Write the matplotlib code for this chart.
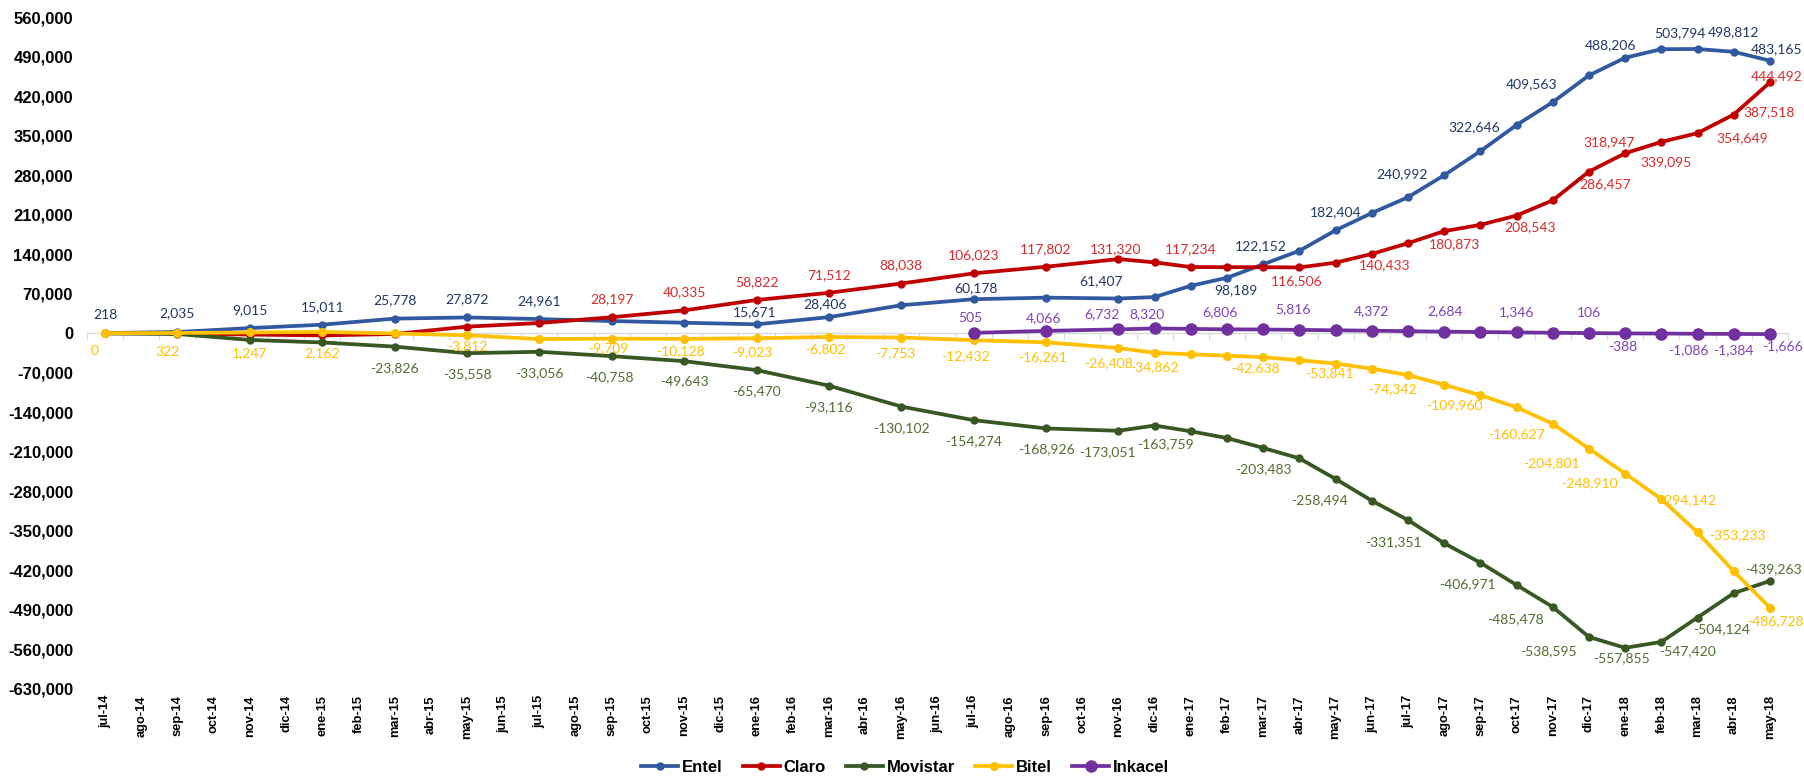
import numpy as np
import matplotlib.pyplot as plt
from matplotlib.ticker import FuncFormatter, MultipleLocator, FixedLocator

# category axis (every month) and the months that carry a data point
months = ['jul-14', 'ago-14', 'sep-14', 'oct-14', 'nov-14', 'dic-14', 'ene-15', 'feb-15', 'mar-15',
          'abr-15', 'may-15', 'jun-15', 'jul-15', 'ago-15', 'sep-15', 'oct-15', 'nov-15', 'dic-15',
          'ene-16', 'feb-16', 'mar-16', 'abr-16', 'may-16', 'jun-16', 'jul-16', 'ago-16', 'sep-16',
          'oct-16', 'nov-16', 'dic-16', 'ene-17', 'feb-17', 'mar-17', 'abr-17', 'may-17', 'jun-17',
          'jul-17', 'ago-17', 'sep-17', 'oct-17', 'nov-17', 'dic-17', 'ene-18', 'feb-18', 'mar-18',
          'abr-18', 'may-18']

data_months = ['jul-14', 'sep-14', 'nov-14', 'ene-15', 'mar-15', 'may-15', 'jul-15', 'sep-15',
               'nov-15', 'ene-16', 'mar-16', 'may-16', 'jul-16', 'sep-16', 'nov-16', 'dic-16',
               'ene-17', 'feb-17', 'mar-17', 'abr-17', 'may-17', 'jun-17', 'jul-17', 'ago-17',
               'sep-17', 'oct-17', 'nov-17', 'dic-17', 'ene-18', 'feb-18', 'mar-18', 'abr-18', 'may-18']

entel = [218, 2035, 9015, 15011, 25778, 27872, 24961, 21500, 18500, 15671, 28406, 49500, 60178,
         63000, 61407, 64000, 84000, 98189, 122152, 146000, 182404, 213000, 240992, 280000,
         322646, 369000, 409563, 457000, 488206, 503500, 503794, 498812, 483165]
claro = [0, -300, -2500, -4000, -1500, 11500, 18000, 28197, 40335, 58822, 71512, 88038, 106023,
         117802, 131320, 125500, 117234, 117000, 117000, 116506, 125000, 140433, 159500, 180873,
         192000, 208543, 235500, 286457, 318947, 339095, 354649, 387518, 444492]
movistar = [-500, -1500, -12000, -16500, -23826, -35558, -33056, -40758, -49643, -65470, -93116,
            -130102, -154274, -168926, -173051, -163759, -174000, -186000, -203483, -222000,
            -258494, -297000, -331351, -372500, -406971, -446500, -485478, -538595, -557855,
            -547420, -504124, -461000, -439263]
bitel = [0, 322, 1247, 2162, -500, -3812, -10500, -9709, -10128, -9023, -6802, -7753, -12432,
         -16261, -26408, -34862, -37500, -40000, -42638, -48000, -53841, -63000, -74342, -91500,
         -109960, -131500, -160627, -204801, -248910, -294142, -353233, -422000, -486728]
inkacel = [None, None, None, None, None, None, None, None, None, None, None, None,
           505, 4066, 6732, 8320, 7500, 6806, 6500, 5816, 5100, 4372, 3500, 2684, 2000, 1346,
           700, 106, -388, -700, -1086, -1384, -1666]

# which points carry a data label, with the label shift in pixels (dx, dy)
entel_labels = {'jul-14': (0, 18), 'sep-14': (0, 19), 'nov-14': (0, 18), 'ene-15': (0, 18),
                'mar-15': (0, 18), 'may-15': (0, 18), 'jul-15': (0, 18), 'ene-16': (-2, 12),
                'mar-16': (-4, 13), 'jul-16': (2, 11), 'nov-16': (-17, 17), 'feb-17': (9, -12),
                'mar-17': (-2, 18), 'may-17': (0, 18), 'jul-17': (-6, 23), 'sep-17': (-6, 24),
                'nov-17': (-21, 18), 'ene-18': (-15, 13), 'mar-18': (-18, 16), 'abr-18': (0, 20),
                'may-18': (7, 11)}
claro_labels = {'sep-15': (0, 18), 'nov-15': (0, 18), 'ene-16': (0, 18), 'mar-16': (0, 18),
                'may-16': (0, 18), 'jul-16': (0, 18), 'sep-16': (0, 18), 'nov-16': (-3, 10),
                'ene-17': (0, 18), 'abr-17': (-3, -14), 'jun-17': (13, -11), 'ago-17': (10, -13),
                'oct-17': (13, -12), 'dic-17': (16, -13), 'ene-18': (-16, 11), 'feb-18': (5, -20),
                'mar-18': (45, -5), 'abr-18': (35, 2), 'may-18': (7, 6)}
movistar_labels = {'mar-15': (0, -22), 'may-15': (0, -21), 'jul-15': (0, -21), 'sep-15': (-2, -21),
                   'nov-15': (0, -20), 'ene-16': (0, -21), 'mar-16': (0, -21), 'may-16': (0, -22),
                   'jul-16': (0, -21), 'sep-16': (0, -21), 'nov-16': (-11, -21), 'dic-16': (11, -19),
                   'mar-17': (0, -21), 'may-17': (-16, -21), 'jul-17': (-15, -22),
                   'sep-17': (-13, -21), 'nov-17': (-37, -12), 'dic-17': (-41, -14),
                   'ene-18': (-4, -10), 'feb-18': (26, -9), 'mar-18': (24, -12), 'may-18': (4, 12)}
bitel_labels = {'jul-14': (-10, -18), 'sep-14': (-10, -19), 'nov-14': (0, -21), 'ene-15': (0, -21),
                'may-15': (0, -11), 'sep-15': (-4, -10), 'nov-15': (-4, -12), 'ene-16': (-4, -14),
                'mar-16': (-4, -12), 'may-16': (-6, -16), 'jul-16': (-8, -16), 'sep-16': (-4, -15),
                'nov-16': (-10, -15), 'dic-16': (0, -14), 'mar-17': (-8, -11), 'may-17': (-6, -10),
                'jul-17': (-16, -14), 'sep-17': (-26, -10), 'nov-17': (-36, -10),
                'dic-17': (-38, -14), 'ene-18': (-36, -10), 'feb-18': (26, -1), 'mar-18': (40, -3),
                'may-18': (6, -13)}
inkacel_labels = {'jul-16': (-3, 15), 'sep-16': (-3, 13), 'nov-16': (-17, 15), 'dic-16': (-8, 14),
                  'feb-17': (-7, 17), 'abr-17': (-6, 21), 'jun-17': (0, 20), 'ago-17': (1, 20),
                  'oct-17': (0, 20), 'dic-17': (0, 20), 'ene-18': (-2, -14), 'mar-18': (-9, -16),
                  'abr-18': (0, -16), 'may-18': (13, -12)}

series = [
    ('Entel', entel, entel_labels, '#3159A0', '#1F3864', 5),
    ('Claro', claro, claro_labels, '#C00000', '#D92B2B', 5),
    ('Movistar', movistar, movistar_labels, '#385723', '#4E6F2F', 5),
    ('Bitel', bitel, bitel_labels, '#FFC000', '#FFC000', 5.5),
    ('Inkacel', inkacel, inkacel_labels, '#7030A0', '#8042B8', 8),
]

x = np.array([months.index(m) for m in data_months])

fig = plt.figure(figsize=(18.04, 7.77), dpi=100)
ax = fig.add_axes([87 / 1804, 1 - 688.5 / 777, (1788 - 87) / 1804, (688.5 - 17.3) / 777])

for name, vals, labels, color, lcolor, ms in series:
    y = np.array([np.nan if v is None else v for v in vals], dtype=float)
    ax.plot(x, y, color=color, lw=2.7, marker='o', markersize=ms, label=name, zorder=3)
    for m, (dx, dy) in labels.items():
        i = data_months.index(m)
        ax.annotate(f"{vals[i]:,}", (x[i], vals[i]), xytext=(dx, dy), textcoords='offset pixels',
                    ha='center', va='center', fontsize=10, family='Lato', color=lcolor, zorder=5)

ax.set_xlim(-0.5, len(months) - 0.5)
ax.set_ylim(-630000, 560000)
ax.yaxis.set_major_locator(MultipleLocator(70000))
ax.yaxis.set_major_formatter(FuncFormatter(lambda v, p: f"{int(round(v)):,}"))
ax.tick_params(axis='y', length=0, pad=10, labelsize=12)
for lab in ax.get_yticklabels():
    lab.set_fontweight('bold')
    lab.set_family('Liberation Sans')

# horizontal axis line crossing at zero, with tick marks between categories
for s in ['top', 'right', 'left']:
    ax.spines[s].set_visible(False)
ax.spines['bottom'].set_position(('data', 0))
ax.spines['bottom'].set_color('#D9D9D9')
ax.spines['bottom'].set_linewidth(1)
ax.xaxis.set_major_locator(FixedLocator(np.arange(-0.5, len(months), 1.0)))
ax.tick_params(axis='x', length=5, color='#D9D9D9', labelbottom=False, direction='out')

# category labels at the bottom of the plot area
sec = ax.secondary_xaxis('bottom')
sec.set_xticks(np.arange(len(months)))
sec.set_xticklabels(months, rotation=90, fontsize=9.3, fontweight='bold', family='Liberation Sans')
sec.tick_params(length=0, pad=4.7)
sec.spines['bottom'].set_visible(False)

fig.legend(loc='center', bbox_to_anchor=(905 / 1804, 1 - 767 / 777), ncol=5, frameon=False,
           prop={'family': 'Liberation Sans', 'weight': 'bold', 'size': 12},
           handlelength=2.2, handletextpad=0.22, columnspacing=1.24, borderaxespad=0)

fig.savefig('out.png', dpi=100)
